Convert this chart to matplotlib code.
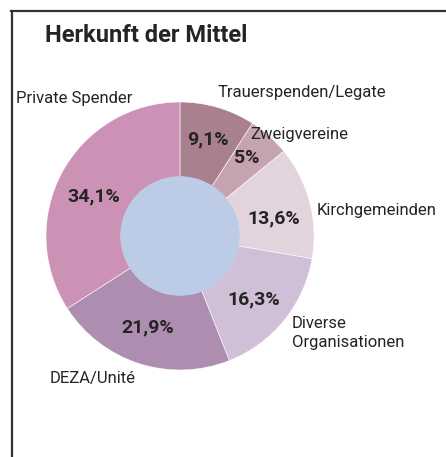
"""Donut chart: Herkunft der Mittel."""
import matplotlib
matplotlib.use("Agg")
import matplotlib.pyplot as plt

W, H = 446, 457

categories = ["Trauerspenden/Legate", "Zweigvereine", "Kirchgemeinden",
              "Diverse\nOrganisationen", "DEZA/Unité", "Private Spender"]
shares = [9.1, 5.0, 13.6, 16.3, 21.9, 34.1]
colors = ["#a8808f", "#c6a3b1", "#e2d3dd", "#d0bfd6", "#ae8eb0", "#cc92b6"]

# outer label anchors in pixel coords (x left edge, y centre)
label_pos = [(218, 93), (250, 135), (317, 211), (292, 333), (50, 378), (16, 98)]
# percent label centres in pixel coords
pct_pos = [(208, 139), (247, 158), (274, 218), (254, 299), (148, 327), (94, 196)]

plt.rcParams["font.family"] = ["Roboto", "DejaVu Sans"]
TXT = "#252423"

fig = plt.figure(figsize=(W / 100, H / 100), dpi=100)
ax = fig.add_axes([0, 0, 1, 1])
ax.set_xlim(0, W)
ax.set_ylim(0, H)
ax.set_aspect("equal")
ax.axis("off")

cx, cy, R = 180, H - 236, 134

def fmt_pct(p):
    return f"{p:.1f}".rstrip("0").rstrip(".").replace(".", ",") + "%"

wedges, _, autotexts = ax.pie(
    shares, colors=colors, startangle=90, counterclock=False,
    center=(cx, cy), radius=R, pctdistance=0.73,
    autopct=fmt_pct,
    wedgeprops=dict(width=R - 59, edgecolor="white", linewidth=0.4),
    textprops=dict(fontsize=14, color=TXT, fontweight="semibold"),
)
for t, (x, y) in zip(autotexts, pct_pos):
    t.set_position((x, H - y))
ax.set_xlim(0, W)
ax.set_ylim(0, H)
ax.add_patch(plt.Circle((cx, cy), 59, color="#bccbe6", zorder=3))

for name, (x, y) in zip(categories, label_pos):
    ax.text(x, H - y, name, ha="left", va="center", fontsize=12,
            color=TXT, linespacing=1.25)

ax.text(45, H - 36, "Herkunft der Mittel", ha="left", va="center",
        fontsize=17, fontweight="bold", color=TXT)

# frame: top and left edges only
ax.plot([11, W], [H - 10.5, H - 10.5], color="#333333", lw=1.6, clip_on=False)
ax.plot([11.5, 11.5], [0, H - 10.5], color="#333333", lw=1.6, clip_on=False)

fig.savefig("out.png", dpi=100)
